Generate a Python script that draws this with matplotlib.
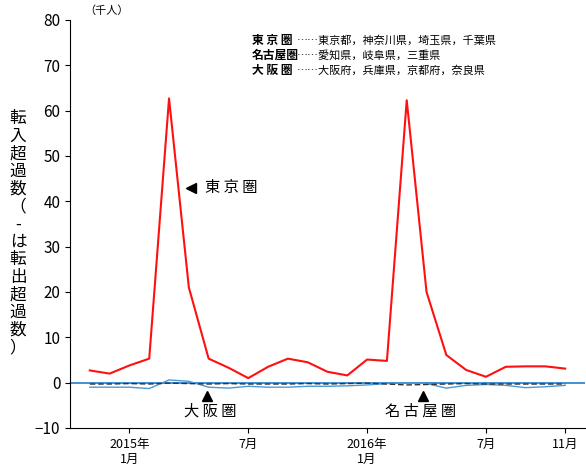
import numpy as np
import matplotlib
matplotlib.use("Agg")
from matplotlib import pyplot as plt

plt.rcParams['font.family'] = ['Noto Sans CJK JP', 'DejaVu Sans']

months = np.arange(25)  # 2014-11 .. 2016-11
tokyo = [2.7, 2.0, 3.8, 5.3, 62.7, 21.0, 5.3, 3.3, 1.0, 3.5, 5.3, 4.5, 2.4,
         1.6, 5.1, 4.8, 62.3, 20.0, 6.1, 2.8, 1.3, 3.5, 3.6, 3.6, 3.1]
osaka = [-1.0, -1.0, -1.0, -1.3, 0.6, 0.3, -1.0, -1.2, -0.8, -1.0, -1.0, -0.8, -0.8,
         -0.7, -0.5, -0.2, 0.0, -0.2, -1.2, -0.6, -0.4, -0.6, -1.1, -0.9, -0.6]
nagoya = [-0.3, -0.3, -0.2, -0.3, -0.1, -0.2, -0.3, -0.2, -0.3, -0.3, -0.3, -0.2, -0.3,
          -0.2, -0.1, -0.3, -0.5, -0.4, -0.3, -0.2, -0.3, -0.3, -0.3, -0.3, -0.3]
tick_pos = [2, 8, 14, 20, 24]
tick_labels = ['2015年\n1月', '7月', '2016年\n1月', '7月', '11月']

fig = plt.figure(figsize=(5.86, 4.66), dpi=100)
ax = fig.add_axes([70 / 586, 38 / 466, 515 / 586, 408 / 466])

ax.axhline(0, color='#1f7fd0', lw=1.2)
ax.plot(months, tokyo, color='#ff1010', lw=1.5)
ax.plot(months, osaka, color='#4a9ad8', lw=1.0)
ax.plot(months, nagoya, color='#333333', lw=1.0, ls=(0, (4, 2)))

ax.set_xlim(-1, 25)
ax.set_ylim(-10, 80)
ax.set_yticks(range(-10, 81, 10))
ax.set_xticks(tick_pos)
ax.set_xticklabels(tick_labels, fontsize=9)
ax.tick_params(axis='y', labelsize=11)
ax.spines['top'].set_visible(False)
ax.spines['right'].set_visible(False)

ax.text(-0.3, 81, '（千人）', fontsize=8, va='bottom')
fig.text(18 / 586, 0.5, '転\n入\n超\n過\n数\n（\n-\nは\n転\n出\n超\n過\n数\n）',
         fontsize=12, ha='center', va='center', linespacing=1.05)

legend_rows = [('東 京 圏', '……東京都，神奈川県，埼玉県，千葉県'),
               ('名古屋圏', '……愛知県，岐阜県，三重県'),
               ('大 阪 圏', '……大阪府，兵庫県，京都府，奈良県')]
for i, (k, v) in enumerate(legend_rows):
    y = 75.5 - i * 3.3
    ax.text(8.2, y, k, fontsize=8.5, fontweight='bold', va='center')
    ax.text(10.45, y, v, fontsize=8, va='center')

ax.plot([5.1], [43], marker='<', color='black', ms=7)
ax.text(5.8, 43, '東 京 圏', fontsize=11, va='center')
ax.plot([5.9], [-3], marker='^', color='black', ms=7)
ax.text(6.1, -6.3, '大 阪 圏', fontsize=11, ha='center', va='center')
ax.plot([16.8], [-3], marker='^', color='black', ms=7)
ax.text(16.7, -6.3, '名 古 屋 圏', fontsize=11, ha='center', va='center')

fig.savefig('out.png')
